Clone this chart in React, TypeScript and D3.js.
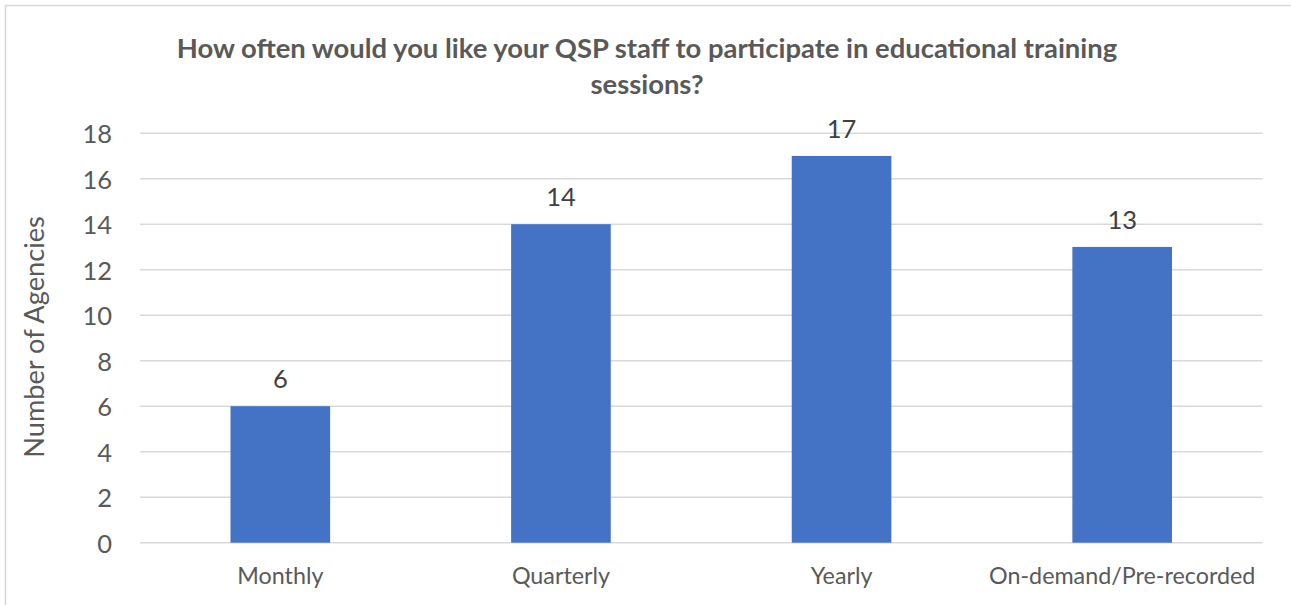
import React from "react";
import * as d3 from "d3";

const categories = ["Monthly", "Quarterly", "Yearly", "On-demand/Pre-recorded"];
const values = [6, 14, 17, 13];
const yTicks = [0, 2, 4, 6, 8, 10, 12, 14, 16, 18];
const titleLines = [
  "How often would you like your QSP staff to participate in educational training",
  "sessions?",
];
const yAxisTitle = "Number of Agencies";

const W = 1291;
const H = 605;
const plot = { left: 140, right: 1262.5, top: 133.2, bottom: 542.7 };
const FONT = "Lato, 'Open Sans', sans-serif";

export default function App() {
  const x = d3
    .scaleBand<string>()
    .domain(categories)
    .range([plot.left, plot.right])
    .paddingInner(0.645)
    .paddingOuter(0.3225);
  const y = d3.scaleLinear().domain([0, 18]).range([plot.bottom, plot.top]);

  return (
    <svg
      width={W}
      height={H}
      style={{ position: "absolute", left: 0, top: 0, background: "#fff" }}
      fontFamily={FONT}
    >
      <rect x={0} y={0} width={W} height={H} fill="#fff" />
      <rect x={5.5} y={5.5} width={W + 20} height={H + 20} fill="none" stroke="#d9d9d9" strokeWidth={1.5} />
      {titleLines.map((t, i) => (
        <text
          key={i}
          x={647}
          y={47 + i * 36}
          textAnchor="middle"
          dominantBaseline="central"
          fontWeight="bold"
          fontSize={27.4}
          fill="#595959"
        >
          {t}
        </text>
      ))}
      {yTicks.map((t) => (
        <g key={t}>
          <line x1={plot.left} x2={plot.right} y1={y(t)} y2={y(t)} stroke="#d9d9d9" strokeWidth={1.5} />
          <text
            x={112}
            y={y(t)}
            textAnchor="end"
            dominantBaseline="central"
            fontSize={25.5}
            fill="#595959"
          >
            {t}
          </text>
        </g>
      ))}
      {categories.map((c, i) => (
        <g key={c}>
          <rect
            x={x(c)}
            y={y(values[i])}
            width={x.bandwidth()}
            height={y(0) - y(values[i])}
            fill="#4472c4"
          />
          <text
            x={(x(c) as number) + x.bandwidth() / 2}
            y={y(values[i]) - 28}
            textAnchor="middle"
            dominantBaseline="central"
            fontSize={25.5}
            fill="#404040"
          >
            {values[i]}
          </text>
          <text
            x={(x(c) as number) + x.bandwidth() / 2}
            y={575}
            textAnchor="middle"
            dominantBaseline="central"
            fontSize={23.3}
            fill="#595959"
          >
            {c}
          </text>
        </g>
      ))}
      <text
        transform={`translate(33,337) rotate(-90)`}
        textAnchor="middle"
        dominantBaseline="central"
        fontSize={27.2}
        fill="#595959"
      >
        {yAxisTitle}
      </text>
    </svg>
  );
}
